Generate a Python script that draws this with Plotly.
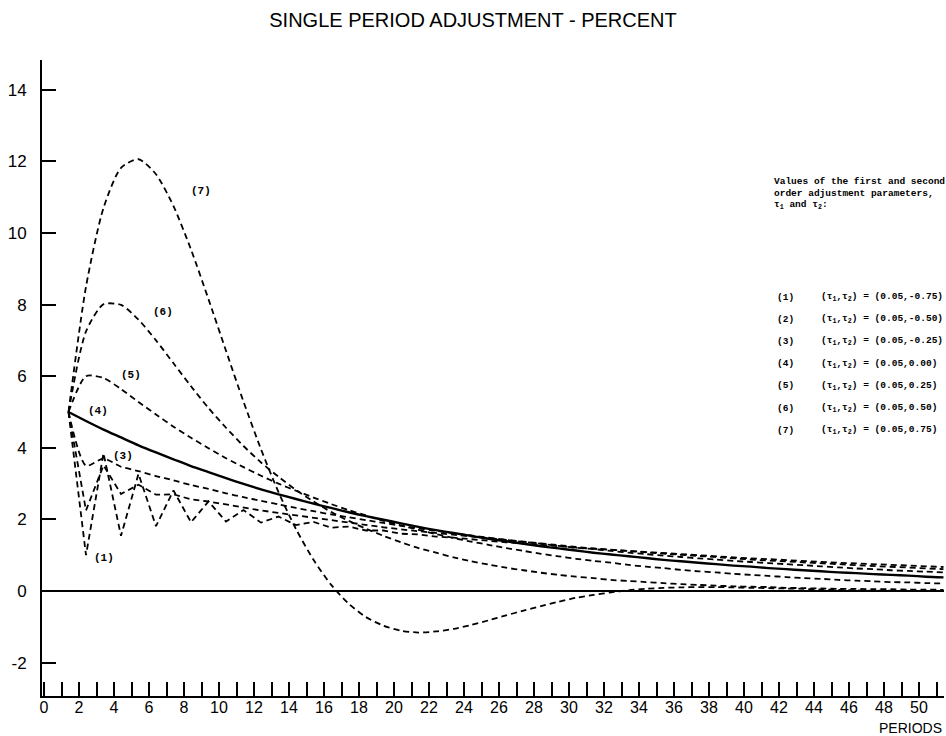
import plotly.graph_objects as go

# ---------------- data ----------------
periods = list(range(1, 52))
curve_ids = ["(1)", "(2)", "(3)", "(4)", "(5)", "(6)", "(7)"]
tau1_vals = ["0.05"] * 7
tau2_vals = ["-0.75", "-0.50", "-0.25", "0.00", "0.25", "0.50", "0.75"]

c1 = [5.00, 1.00, 3.85, 1.54, 3.27, 1.81, 2.81, 1.92, 2.50, 1.94, 2.26, 1.91, 2.08, 1.84, 1.93, 1.77, 1.80,
      1.69, 1.69, 1.60, 1.58, 1.52, 1.49, 1.44, 1.41, 1.36, 1.33, 1.28, 1.25, 1.21, 1.18, 1.15, 1.12, 1.08,
      1.05, 1.02, 0.99, 0.97, 0.94, 0.91, 0.89, 0.86, 0.84, 0.81, 0.79, 0.77, 0.75, 0.73, 0.71, 0.69, 0.67]
c2 = [5.00, 2.25, 3.51, 2.71, 2.97, 2.69, 2.70, 2.56, 2.50, 2.41, 2.33, 2.25, 2.18, 2.11, 2.04, 1.97, 1.91,
      1.84, 1.78, 1.72, 1.67, 1.61, 1.56, 1.51, 1.46, 1.41, 1.36, 1.32, 1.28, 1.23, 1.19, 1.15, 1.12, 1.08,
      1.04, 1.01, 0.98, 0.94, 0.91, 0.88, 0.85, 0.83, 0.80, 0.77, 0.75, 0.72, 0.70, 0.67, 0.65, 0.63, 0.61]
c3 = [5.00, 3.50, 3.70, 3.47, 3.35, 3.21, 3.09, 2.96, 2.85, 2.73, 2.62, 2.52, 2.42, 2.32, 2.23, 2.14, 2.06,
      1.98, 1.90, 1.82, 1.75, 1.68, 1.61, 1.55, 1.49, 1.43, 1.37, 1.32, 1.26, 1.21, 1.17, 1.12, 1.07, 1.03,
      0.99, 0.95, 0.91, 0.88, 0.84, 0.81, 0.78, 0.75, 0.72, 0.69, 0.66, 0.63, 0.61, 0.58, 0.56, 0.54, 0.52]
c4 = [5.00, 4.75, 4.51, 4.29, 4.07, 3.87, 3.68, 3.49, 3.32, 3.15, 2.99, 2.84, 2.70, 2.57, 2.44, 2.32, 2.20,
      2.09, 1.99, 1.89, 1.79, 1.70, 1.62, 1.54, 1.46, 1.39, 1.32, 1.25, 1.19, 1.13, 1.07, 1.02, 0.97, 0.92,
      0.87, 0.83, 0.79, 0.75, 0.71, 0.68, 0.64, 0.61, 0.58, 0.55, 0.52, 0.50, 0.47, 0.45, 0.43, 0.40, 0.38]
c5 = [5.00, 6.00, 5.95, 5.64, 5.28, 4.93, 4.59, 4.28, 3.99, 3.71, 3.46, 3.22, 3.00, 2.80, 2.61, 2.43, 2.26,
      2.11, 1.96, 1.83, 1.71, 1.59, 1.48, 1.38, 1.29, 1.20, 1.12, 1.04, 0.97, 0.90, 0.84, 0.79, 0.73, 0.68,
      0.64, 0.59, 0.55, 0.52, 0.48, 0.45, 0.42, 0.39, 0.36, 0.34, 0.31, 0.29, 0.27, 0.25, 0.24, 0.22, 0.21]
c6 = [5.00, 7.25, 8.01, 7.99, 7.58, 7.00, 6.36, 5.72, 5.11, 4.56, 4.05, 3.59, 3.19, 2.82, 2.50, 2.21, 1.96,
      1.74, 1.54, 1.36, 1.20, 1.07, 0.94, 0.83, 0.74, 0.65, 0.58, 0.51, 0.45, 0.40, 0.36, 0.31, 0.28, 0.25,
      0.22, 0.19, 0.17, 0.15, 0.13, 0.12, 0.11, 0.09, 0.08, 0.07, 0.06, 0.06, 0.05, 0.05, 0.04, 0.04, 0.03]
c7 = [5.00, 8.50, 10.70, 11.82, 12.06, 11.64, 10.75, 9.54, 8.15, 6.71, 5.29, 3.96, 2.76, 1.73, 0.87, 0.18,
      -0.35, -0.73, -0.97, -1.11, -1.16, -1.13, -1.06, -0.95, -0.82, -0.68, -0.55, -0.42, -0.30, -0.19, -0.11,
      -0.04, 0.02, 0.06, 0.09, 0.10, 0.11, 0.11, 0.10, 0.09, 0.08, 0.07, 0.06, 0.04, 0.03, 0.02, 0.01, 0.01,
      0.00, 0.00, 0.00]

x_tick_vals = list(range(0, 52))
x_tick_labels = [str(v) if v % 2 == 0 else "" for v in x_tick_vals]
y_tick_vals = list(range(-2, 15, 2))
y_tick_labels = [str(v) for v in y_tick_vals]  # plain hyphen for "-2"

title_text = "SINGLE PERIOD ADJUSTMENT - PERCENT"
x_label_text = "PERIODS"
legend_header = ["Values of the first and second",
                 "order adjustment parameters,",
                 "τ<sub>1</sub> and τ<sub>2</sub>:"]

# ---------------- geometry / style ----------------
W, H = 946, 736
L, R, T, B = 42, 2, 60, 40
X0_PX, PX_PER_PERIOD = 44.0, 17.5
Y0_PX, PX_PER_UNIT = 591.0, 35.8
PERIOD_SHIFT = 0.4  # curves in the original are drawn slightly right of the tick marks

x_range = [(L - X0_PX) / PX_PER_PERIOD, (W - R - X0_PX) / PX_PER_PERIOD]
y_range = [(Y0_PX - (H - B)) / PX_PER_UNIT, (Y0_PX - T) / PX_PER_UNIT]


def paper_x(px):
    return (px - L) / (W - L - R)


def paper_y(py):
    return (H - B - py) / (H - T - B)


def data_x(px):
    return (px - X0_PX) / PX_PER_PERIOD


def data_y(py):
    return (Y0_PX - py) / PX_PER_UNIT


MONO = "Liberation Mono"
SANS = "Liberation Sans"

series = [c1, c2, c3, c4, c5, c6, c7]
fig = go.Figure()
for i, vals in enumerate(series):
    solid = (i == 3)
    oscill = i in (0, 1)
    fig.add_trace(go.Scatter(
        x=[p + PERIOD_SHIFT for p in periods], y=vals, mode="lines",
        name=curve_ids[i], showlegend=False, hoverinfo="skip",
        line=dict(color="black", width=2.4 if solid else 1.8,
                  dash="solid" if solid else "6px,4px",
                  shape="linear" if oscill else "spline",
                  smoothing=0.0 if oscill else 0.7),
    ))

annotations = []
# curve labels
label_px = {"(7)": (201, 191), "(6)": (163, 312), "(5)": (131, 375), "(4)": (98, 411),
            "(3)": (123, 456), "(1)": (104, 558)}
for lab, (px, py) in label_px.items():
    annotations.append(dict(x=data_x(px), y=data_y(py), xref="x", yref="y", text="<b>%s</b>" % lab,
                            showarrow=False, font=dict(family=MONO, size=11, color="black"),
                            xanchor="center", yanchor="middle"))

# legend block
LEG_SIZE = 9.5
for k, line in enumerate(legend_header):
    annotations.append(dict(x=paper_x(772), y=paper_y(181 + 12 * k), xref="paper", yref="paper",
                            text="<b>%s</b>" % line, showarrow=False, xanchor="left", yanchor="middle",
                            font=dict(family=MONO, size=LEG_SIZE, color="black")))
for k in range(7):
    py = 297 + 22.2 * k
    annotations.append(dict(x=paper_x(775), y=paper_y(py), xref="paper", yref="paper",
                            text="<b>%s</b>" % curve_ids[k], showarrow=False, xanchor="left",
                            yanchor="middle", font=dict(family=MONO, size=LEG_SIZE, color="black")))
    annotations.append(dict(x=paper_x(819), y=paper_y(py), xref="paper", yref="paper",
                            text="<b>(τ<sub>1</sub>,τ<sub>2</sub>) = (%s,%s)</b>" % (tau1_vals[k], tau2_vals[k]),
                            showarrow=False, xanchor="left", yanchor="middle",
                            font=dict(family=MONO, size=LEG_SIZE, color="black")))

# x axis caption
annotations.append(dict(x=paper_x(944), y=paper_y(728), xref="paper", yref="paper", text=x_label_text,
                        showarrow=False, xanchor="right", yanchor="middle",
                        font=dict(family=SANS, size=14, color="black")))

fig.update_layout(
    width=W, height=H,
    margin=dict(l=L, r=R, t=T, b=B, autoexpand=False),
    paper_bgcolor="white", plot_bgcolor="white",
    title=dict(text=title_text, x=473 / W, y=1 - 20 / H, xanchor="center", yanchor="middle",
               font=dict(family=SANS, size=20, color="black")),
    xaxis=dict(range=x_range, tickvals=x_tick_vals, ticktext=x_tick_labels, ticks="inside",
               ticklen=14, tickwidth=1.5, tickcolor="black", showline=True, linecolor="black",
               linewidth=2, showgrid=False, zeroline=False, ticklabelstandoff=-4,
               tickfont=dict(family=SANS, size=16, color="black")),
    yaxis=dict(range=y_range, tickvals=y_tick_vals, ticktext=y_tick_labels, ticks="inside",
               ticklen=14, tickwidth=1.5, tickcolor="black", showline=True, linecolor="black",
               linewidth=2, showgrid=False, zeroline=True, zerolinecolor="black", zerolinewidth=1.6,
               ticklabelstandoff=10, tickfont=dict(family=SANS, size=17, color="black")),
    annotations=annotations,
)

fig.write_html("out.html")
